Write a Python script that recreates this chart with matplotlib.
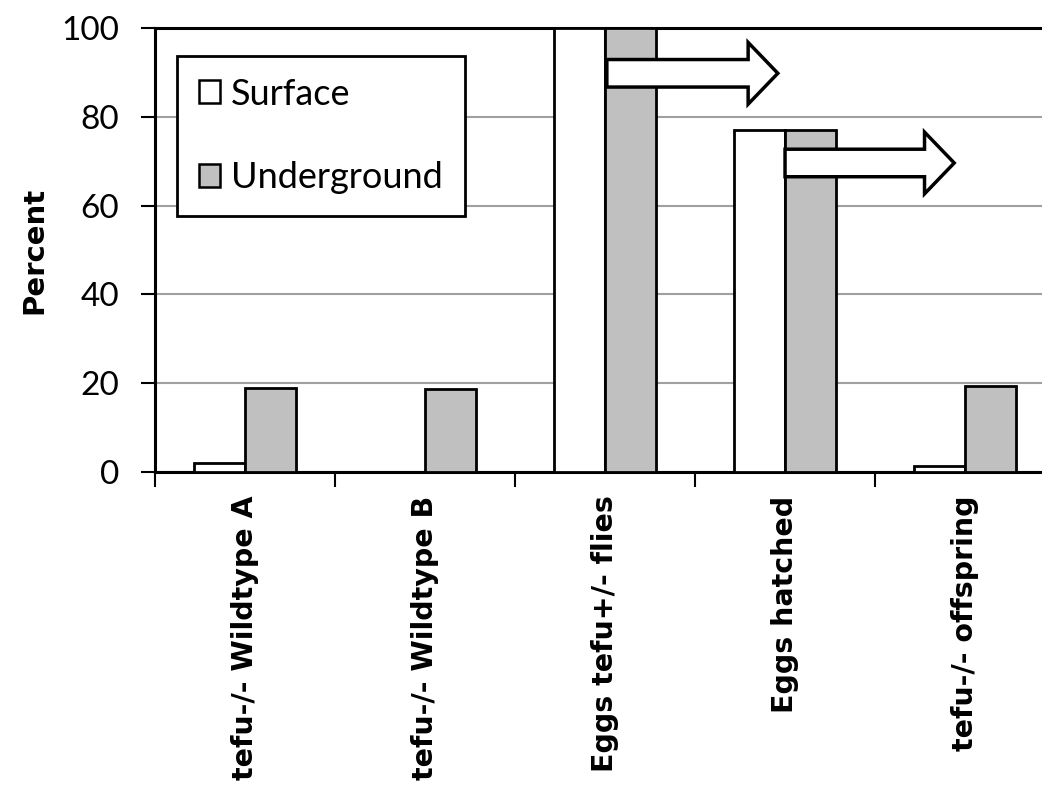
"""
Surface vs underground percentages per cross
"""
import numpy as np
import matplotlib
matplotlib.use('Agg')
import matplotlib.pyplot as plt
from matplotlib.patches import FancyArrow

#data
categories = ['tefu-/- Wildtype A', 'tefu-/- Wildtype B', 'Eggs tefu+/- flies',
              'Eggs hatched', 'tefu-/- offspring']
surface = [2.1, 0.0, 100.0, 77.0, 1.3]
underground = [19.0, 18.7, 100.0, 77.0, 19.4]
yticks = [0, 20, 40, 60, 80, 100]

# arrows: (start x, centre y, length) in data units
arrows = [(2.01, 89.8, 0.95), (3.0, 69.6, 0.94)]

plt.rcParams['font.family'] = ['Lato', 'DejaVu Sans']

fig = plt.figure(figsize=(10.42, 7.91), dpi=100)
ax = fig.add_axes([0.1488, 0.4033, 0.8637, 0.5613])

x = np.arange(len(categories))
w = 0.285
ax.bar(x - w, surface, w, align='edge', color='white', edgecolor='black', linewidth=2, zorder=3, label='Surface')
ax.bar(x, underground, w, align='edge', color='#c0c0c0', edgecolor='black', linewidth=2, zorder=3, label='Underground')

for x0, y0, dx in arrows:
    ax.add_patch(FancyArrow(x0, y0, dx, 0, width=6.2, head_width=13.9, head_length=0.165,
                            length_includes_head=True, facecolor='white', edgecolor='black',
                            linewidth=2.5, zorder=4))

ax.set_xlim(-0.5, 4.5)
ax.set_ylim(0, 100)
ax.set_yticks(yticks)
ax.yaxis.grid(True, color='#a0a0a0', linewidth=1.5, zorder=0)
ax.set_axisbelow(True)

ax.set_xticks(x)
ax.set_xticklabels(categories, rotation=90, fontsize=20.5, fontweight='bold', family='DejaVu Sans')
ax.set_xticks(np.arange(-0.5, 5, 1), minor=True)
ax.tick_params(axis='x', which='major', length=0, pad=17)
ax.tick_params(axis='x', which='minor', length=11, width=1.5, direction='out')
ax.tick_params(axis='y', length=10, width=1.5, labelsize=24, pad=16)

for s in ['left', 'top', 'bottom']:
    ax.spines[s].set_linewidth(2.2)
    ax.spines[s].set_color('black')
ax.spines['right'].set_visible(False)

ax.set_ylabel('Percent', fontsize=21, fontweight='bold', family='DejaVu Sans', labelpad=9)

leg = ax.legend(loc='upper left', bbox_to_anchor=(0.0244, 0.937), borderaxespad=0,
                fontsize=26, frameon=True, fancybox=False, handlelength=0.6, handleheight=0.6,
                handletextpad=0.3, labelspacing=1.4, borderpad=0.6)
leg.get_frame().set_edgecolor('black')
leg.get_frame().set_linewidth(2)
leg.get_frame().set_alpha(1)
leg.set_zorder(5)
for h in leg.legend_handles:
    h.set_linewidth(1.8)

plt.savefig('out.png', dpi=100)
